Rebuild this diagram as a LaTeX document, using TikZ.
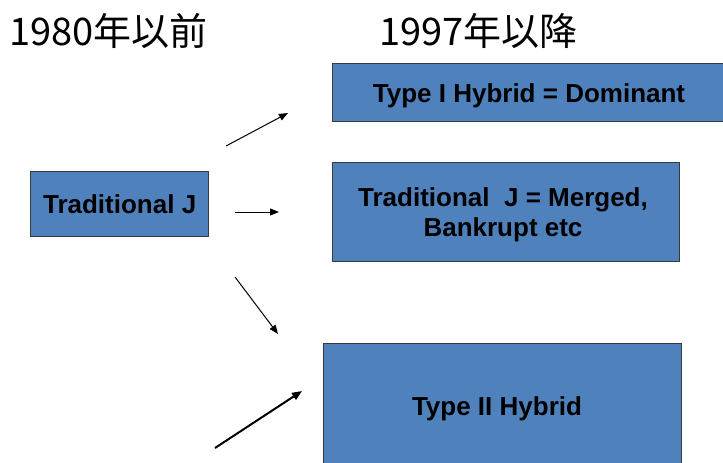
\documentclass[tikz,border=0pt]{standalone}
\usepackage{fontspec}
\setmainfont{Liberation Sans}
\newfontfamily\cjk{Noto Sans CJK JP}
\usetikzlibrary{arrows.meta}
\definecolor{boxblue}{HTML}{4F81BD}
\definecolor{boxedge}{HTML}{3A3A3A}
\begin{document}
\begin{tikzpicture}[x=1pt,y=-1pt,
  boxfont/.style={font=\bfseries\fontsize{26}{30}\selectfont},
  box/.style={draw=boxedge, line width=1.3pt, fill=boxblue, anchor=north west,
    boxfont, inner sep=0pt, align=center},
  title/.style={anchor=base west, inner sep=0pt, font=\cjk\fontsize{38}{40}\selectfont},
  arr/.style={-{Triangle[length=9pt,width=7pt]}, line width=1pt},
  arrthick/.style={-{Triangle[length=10pt,width=8pt]}, line width=2pt}]
\useasboundingbox (0,0) rectangle (723,463);
\node[title] (t1) at (9,45) {1980年以前};
\node[title] (t2) at (379,45) {1997年以降};
\node[box, minimum width=178pt, minimum height=65pt] (tj) at (30,171) {Traditional J};
\node[box, minimum width=400pt, minimum height=58pt] (h1) at (332,63) {};
\node[boxfont, inner sep=0pt] (h1t) at (529,96) {Type I Hybrid = Dominant};
\node[box, minimum width=347pt, minimum height=99pt] (tm) at (332,162) {};
\node[boxfont, inner sep=0pt, align=center] (tmt) at (503,215) {Traditional\ \ J = Merged,\\Bankrupt etc};
\node[box, minimum width=358pt, minimum height=130pt] (h2) at (323,343) {};
\node[boxfont, inner sep=0pt] (h2t) at (497,409) {Type II Hybrid};
\coordinate (a1s) at (226,146); \coordinate (a1e) at (288,113);
\coordinate (a2s) at (235,212); \coordinate (a2e) at (279,212);
\coordinate (a3s) at (235,277); \coordinate (a3e) at (278,334);
\coordinate (a4s) at (215,448); \coordinate (a4e) at (302,391);
\draw[arr] (a1s) -- (a1e);
\draw[arr] (a2s) -- (a2e);
\draw[arr] (a3s) -- (a3e);
\draw[arrthick] (a4s) -- (a4e);
\end{tikzpicture}
\end{document}
